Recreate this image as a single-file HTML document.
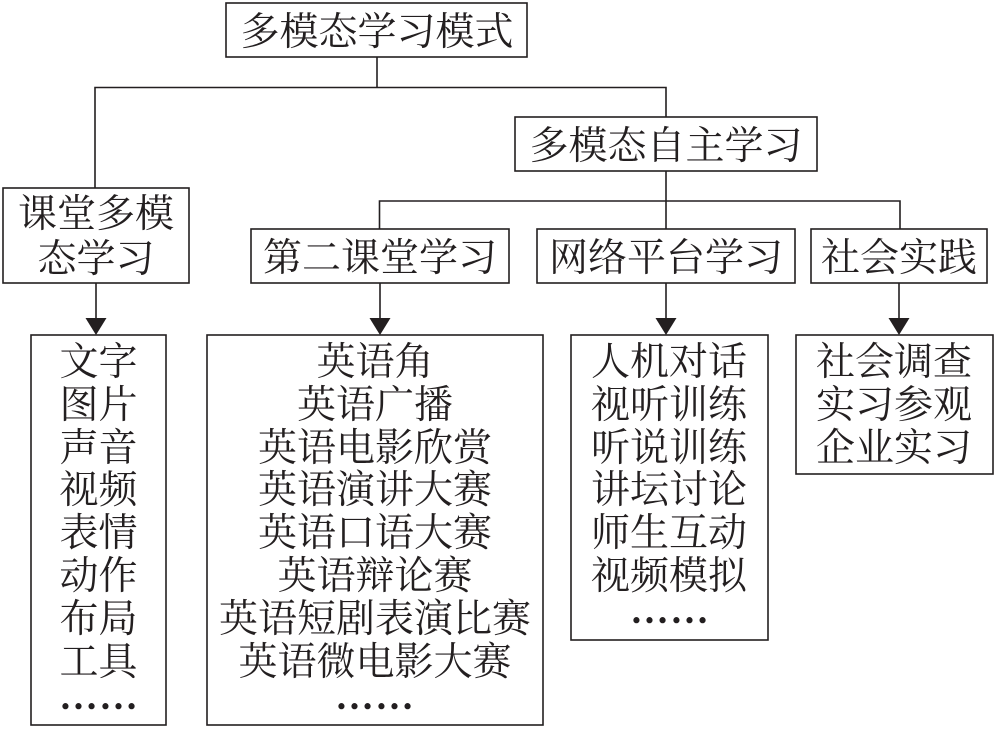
<!DOCTYPE html>
<html>
<head>
<meta charset="utf-8">
<style>
  html, body { margin:0; padding:0; background:#fff; }
  body { width:996px; height:729px; overflow:hidden; }
  svg { display:block; }
  text { font-family: "Liberation Serif", "Noto Serif CJK SC", "Noto Sans CJK SC", serif; font-size:39px; fill:#231f20; text-anchor:middle; }
  text.dots { stroke:#231f20; stroke-width:1.6; letter-spacing:1px; }
</style>
</head>
<body>
<svg width="996" height="729" viewBox="0 0 996 729" xmlns="http://www.w3.org/2000/svg">
  <g fill="none" stroke="#231f20" stroke-width="1.6">
    <!-- boxes -->
    <rect x="226" y="3" width="301" height="54"/>
    <rect x="515" y="117" width="302" height="54"/>
    <rect x="3" y="188" width="186" height="95"/>
    <rect x="251" y="229" width="258" height="54"/>
    <rect x="537" y="229" width="258" height="54"/>
    <rect x="811" y="229" width="176" height="54"/>
    <rect x="31" y="335" width="135" height="390"/>
    <rect x="207" y="335" width="336" height="390"/>
    <rect x="571" y="335" width="197" height="305"/>
    <rect x="796" y="335" width="197" height="139"/>
    <!-- connectors -->
    <polyline points="377,57 377,87.5"/>
    <polyline points="95,188 95,87.5 666,87.5 666,117"/>
    <polyline points="666,171 666,229"/>
    <polyline points="379.5,229 379.5,201 900,201 900,229"/>
    <!-- arrow shafts -->
    <line x1="96" y1="283" x2="96" y2="320"/>
    <line x1="380" y1="283" x2="380" y2="320"/>
    <line x1="666" y1="283" x2="666" y2="320"/>
    <line x1="899" y1="283" x2="899" y2="320"/>
  </g>
  <g fill="#231f20">
    <polygon points="85.5,318 106.5,318 96,335"/>
    <polygon points="369.5,318 390.5,318 380,335"/>
    <polygon points="655.5,318 676.5,318 666,335"/>
    <polygon points="888.5,318 909.5,318 899,335"/>
  </g>

  <text x="377" y="45">多模态学习模式</text>
  <text x="666" y="159">多模态自主学习</text>
  <text x="96" y="227">课堂多模</text>
  <text x="96" y="272">态学习</text>
  <text x="380" y="271">第二课堂学习</text>
  <text x="666" y="271">网络平台学习</text>
  <text x="899" y="271">社会实践</text>

  <!-- list 1 -->
  <text x="98.5" y="375">文字</text>
  <text x="98.5" y="418">图片</text>
  <text x="98.5" y="461">声音</text>
  <text x="98.5" y="503">视频</text>
  <text x="98.5" y="546">表情</text>
  <text x="98.5" y="589">动作</text>
  <text x="98.5" y="632">布局</text>
  <text x="98.5" y="675">工具</text>
  <text class="dots" x="99" y="708">……</text>

  <!-- list 2 -->
  <text x="375" y="375">英语角</text>
  <text x="375" y="418">英语广播</text>
  <text x="375" y="461">英语电影欣赏</text>
  <text x="375" y="503">英语演讲大赛</text>
  <text x="375" y="546">英语口语大赛</text>
  <text x="375" y="589">英语辩论赛</text>
  <text x="375" y="632">英语短剧表演比赛</text>
  <text x="375" y="675">英语微电影大赛</text>
  <text class="dots" x="375" y="708">……</text>

  <!-- list 3 -->
  <text x="669" y="375">人机对话</text>
  <text x="669" y="418">视听训练</text>
  <text x="669" y="461">听说训练</text>
  <text x="669" y="503">讲坛讨论</text>
  <text x="669" y="546">师生互动</text>
  <text x="669" y="589">视频模拟</text>
  <text class="dots" x="670" y="622">……</text>

  <!-- list 4 -->
  <text x="894" y="375">社会调查</text>
  <text x="894" y="418">实习参观</text>
  <text x="894" y="461">企业实习</text>
</svg>
</body>
</html>
